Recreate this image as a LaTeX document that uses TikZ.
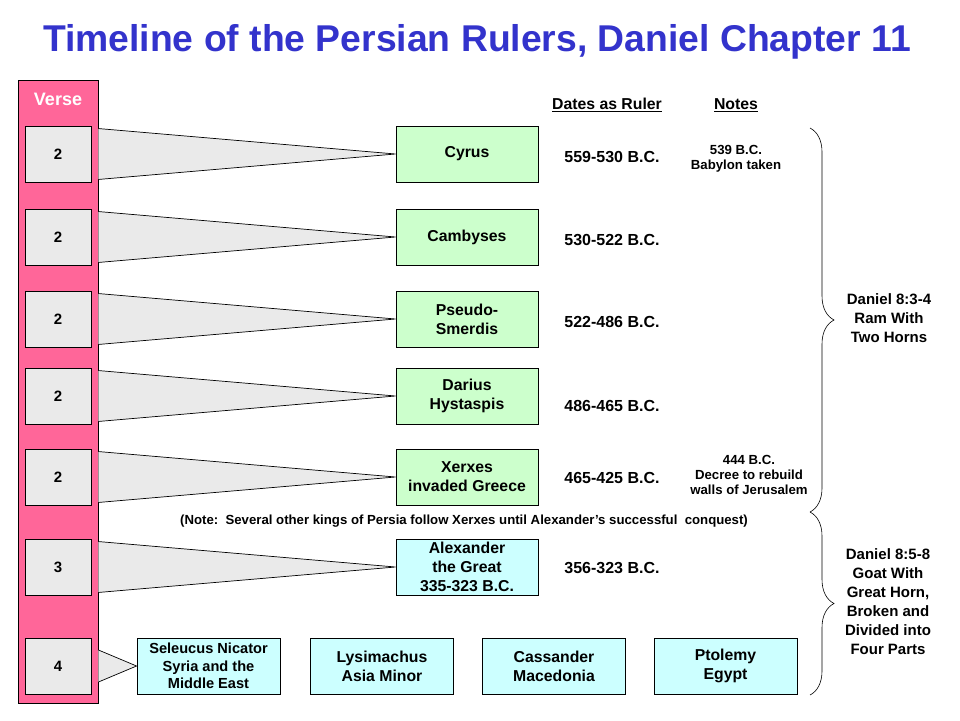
\documentclass[tikz,border=0pt]{standalone}
\usepackage{fontspec}
\setmainfont{Liberation Sans}
\usepackage{tikz}
\usetikzlibrary{calc,decorations.pathreplacing}
\definecolor{titleblue}{RGB}{51,51,204}
\definecolor{versepink}{RGB}{255,102,153}
\definecolor{versegray}{RGB}{234,234,234}
\definecolor{kinggreen}{RGB}{204,255,204}
\definecolor{kingcyan}{RGB}{204,255,255}

\tikzset{
  versebox/.style={draw, line width=0.9pt, fill=versegray, minimum width=66pt,
                   minimum height=56pt, inner sep=0pt, font=\bfseries\fontsize{15}{17}\selectfont},
  kingbox/.style={draw, line width=0.9pt, fill=kinggreen, minimum width=142pt,
                  minimum height=56pt, inner sep=0pt, align=center,
                  font=\bfseries\fontsize{15.8}{19}\selectfont},
  heirbox/.style={kingbox, fill=kingcyan, minimum width=143pt},
  datetext/.style={font=\bfseries\fontsize{16}{19}\selectfont},
  notetext/.style={align=center, font=\bfseries\fontsize{13.2}{15}\selectfont},
  bracetext/.style={align=center, font=\bfseries\fontsize{15}{19}\selectfont},
  wedge/.style={fill=versegray},
  bracket/.style={decorate, decoration={brace, amplitude=24pt, aspect=0.5}, line width=0.6pt}
}

\begin{document}
\begin{tikzpicture}[x=1pt, y=-1pt]
  \useasboundingbox (0,0) rectangle (960,720);

  \node[text=titleblue, font=\bfseries\fontsize{37.3}{40}\selectfont] (title) at (477,42)
    {Timeline of the Persian Rulers, Daniel Chapter 11};

  % verse column
  \node[draw, line width=0.9pt, fill=versepink, minimum width=80pt, minimum height=623pt,
        inner sep=0pt] (bar) at (58,391.5) {};
  \node[text=white, font=\bfseries\fontsize{18}{20}\selectfont] (verse) at (58,99) {Verse};

  \node[versebox] (v1) at (58,154) {2};
  \node[versebox] (v2) at (58,237) {2};
  \node[versebox] (v3) at (58,319) {2};
  \node[versebox] (v4) at (58,396) {2};
  \node[versebox] (v5) at (58,477) {2};
  \node[versebox] (v6) at (58,567) {3};
  \node[versebox] (v7) at (58,666) {4};

  % rulers
  \node[kingbox] (k1) at (467,154) {Cyrus};
  \node[kingbox] (k2) at (467,237) {Cambyses};
  \node[kingbox] (k3) at (467,319) {Pseudo-\\Smerdis};
  \node[kingbox] (k4) at (467,396) {Darius\\Hystaspis};
  \node[kingbox] (k5) at (467,477) {Xerxes\\invaded Greece};
  \node[heirbox, minimum width=142pt] (k6) at (467,567) {Alexander\\the Great\\335-323 B.C.};

  \node[heirbox, font=\bfseries\fontsize{14.6}{17.5}\selectfont] (h1) at (208.5,666)
    {Seleucus Nicator\\Syria and the\\Middle East};
  \node[heirbox] (h2) at (382,666) {Lysimachus\\Asia Minor};
  \node[heirbox] (h3) at (554,666) {Cassander\\Macedonia};
  \node[heirbox] (h4) at (725.5,666) {Ptolemy\\Egypt};

  % wedges from the verse column
  \foreach \v/\k in {v1/k1, v2/k2, v3/k3, v4/k4, v5/k5, v6/k6}{
    \fill[wedge] ($(bar.east|-\v.north)+(0,3)$) -- (\k.west) -- ($(bar.east|-\v.south)+(0,-3)$) -- cycle;
    \draw[line width=0.7pt] ($(bar.east|-\v.north)+(0,3)$) -- (\k.west) -- ($(bar.east|-\v.south)+(0,-3)$);
  }
  \fill[wedge] ($(bar.east|-v7)+(0,-16)$) -- (h1.west) -- ($(bar.east|-v7)+(0,16)$) -- cycle;
  \draw[line width=0.7pt] ($(bar.east|-v7)+(0,-16)$) -- (h1.west) -- ($(bar.east|-v7)+(0,16)$);

  % dates and notes
  \node[font=\bfseries\fontsize{15.8}{18}\selectfont] (dhead) at (607,105) {\underline{Dates as Ruler}};
  \node[font=\bfseries\fontsize{15.8}{18}\selectfont] (nhead) at (736,105) {\underline{Notes}};

  \node[datetext] (d1) at (612,157) {559-530 B.C.};
  \node[datetext] (d2) at (612,240) {530-522 B.C.};
  \node[datetext] (d3) at (612,322) {522-486 B.C.};
  \node[datetext] (d4) at (612,406) {486-465 B.C.};
  \node[datetext] (d5) at (612,478) {465-425 B.C.};
  \node[datetext] (d6) at (612,568) {356-323 B.C.};

  \node[notetext] (n1) at (736,159) {539 B.C.\\Babylon taken};
  \node[notetext] (n2) at (749,475) {444 B.C.\\Decree to rebuild\\walls of Jerusalem};

  \node[font=\bfseries\fontsize{13.2}{15}\selectfont] (note) at (464,521)
    {(Note:\ \ Several other kings of Persia follow Xerxes until Alexander’s successful\ \ conquest)};

  % braces
  \coordinate (b1) at (810,128);
  \coordinate (b2) at (810,512);
  \coordinate (b3) at (810,695);
  \draw[bracket] (b1) -- (b2);
  \draw[bracket] (b2) -- (b3);

  \node[bracetext] (ram) at (889,318) {Daniel 8:3-4\\Ram With\\Two Horns};
  \node[bracetext] (goat) at (888,602) {Daniel 8:5-8\\Goat With\\Great Horn,\\Broken and\\Divided into\\Four Parts};
\end{tikzpicture}
\end{document}
